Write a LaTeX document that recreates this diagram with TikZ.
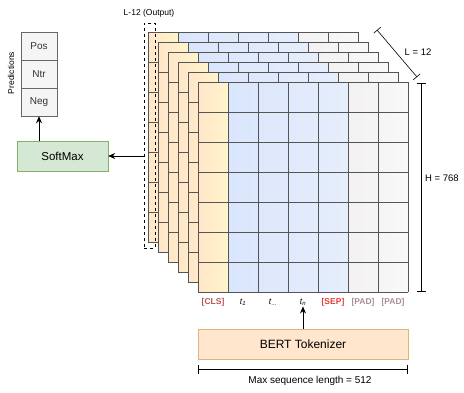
\documentclass[tikz,border=0pt]{standalone}
\usepackage{fontspec}
\setmainfont{Liberation Sans}
\usepackage{xcolor}
\usetikzlibrary{arrows.meta, positioning, calc}

\definecolor{gridln}{HTML}{555555}
\definecolor{clsL}{HTML}{FFE6C8}
\definecolor{clsR}{HTML}{FFF4CC}
\definecolor{tokL}{HTML}{DAE6FC}
\definecolor{tokR}{HTML}{E6EEFC}
\definecolor{padL}{HTML}{F3F1F2}
\definecolor{padR}{HTML}{F9F9F9}
\definecolor{clsred}{HTML}{B85450}
\definecolor{sepred}{HTML}{E0403A}
\definecolor{padgray}{HTML}{A88F98}
\definecolor{greenfill}{HTML}{D5E8D4}
\definecolor{greendraw}{HTML}{82B366}
\definecolor{orangefill}{HTML}{FFE6CC}
\definecolor{orangedraw}{HTML}{DDB57E}
\definecolor{predfill}{HTML}{F5F5F5}
\definecolor{preddraw}{HTML}{666666}

\tikzset{
  predcell/.style={draw=preddraw, fill=predfill, minimum width=36pt,
    minimum height=27.7pt, inner sep=0pt, font=\fontsize{10}{12}\selectfont, text=black!80},
  toklabel/.style={inner sep=1pt, font=\fontsize{8.5}{10}\selectfont},
  dimlabel/.style={inner sep=1pt, font=\fontsize{9.5}{11}\selectfont},
  dimline/.style={{Bar[width=9pt]}-{Bar[width=9pt]}, line width=0.6pt},
  flow/.style={-{Stealth[length=7pt, width=6pt]}, line width=0.8pt},
}

\begin{document}
\begin{tikzpicture}[>=Stealth, x=1pt, y=-1pt]
  \useasboundingbox (0,0) rectangle (464,392);
  % stacked encoder layers, back to front
  \foreach \k in {5,4,...,0} {
    \pgfmathsetmacro{\ox}{198-10*\k}
    \pgfmathsetmacro{\oy}{82-10*\k}
    \shade[left color=clsL, right color=clsR] (\ox,\oy) rectangle ++(30,210);
    \shade[left color=tokL, right color=tokR] (\ox+30,\oy) rectangle ++(120,210);
    \shade[left color=padL, right color=padR] (\ox+150,\oy) rectangle ++(60,210);
    \foreach \i in {0,...,7} {
      \draw[gridln, line width=0.7pt] (\ox+30*\i,\oy) -- ++(0,210);
      \draw[gridln, line width=0.7pt] (\ox,\oy+30*\i) -- ++(210,0);
    }
  }
  % output layer marker
  \node[draw, dashed, line width=0.5pt, minimum width=11pt, minimum height=225pt,
        inner sep=0pt] (outL) at (149.5,135.5) {};
  \node[inner sep=1pt, font=\fontsize{8.5}{10}\selectfont] (outlbl) at (149,13) {L-12 (Output)};
  % token labels
  \node[toklabel, text=clsred] (cls) at (213,302) {\textbf{[CLS]}};
  \node[toklabel] (t1) at (243,302) {\textit{t}\textsubscript{\textit{1}}};
  \node[toklabel] (tdots) at (273,302) {\textit{t}\textsubscript{\textit{...}}};
  \node[toklabel] (tn) at (303,302) {\textit{t}\textsubscript{\textit{n}}};
  \node[toklabel, text=sepred] (sep) at (333,302) {\textbf{[SEP]}};
  \node[toklabel, text=padgray] (pad1) at (363,302) {\textbf{[PAD]}};
  \node[toklabel, text=padgray] (pad2) at (393,302) {\textbf{[PAD]}};
  % tokenizer
  \node[draw=orangedraw, fill=orangefill, minimum width=210pt, minimum height=30pt,
        inner sep=0pt, font=\fontsize{12}{14}\selectfont] (tokzr) at (303,344) {BERT Tokenizer};
  \draw[flow] (tokzr) -- (tn);
  % max sequence length
  \coordinate (mA) at (198,369);
  \coordinate (mB) at (408,369);
  \draw[dimline] (mA) -- (mB);
  \node[inner sep=1pt, font=\fontsize{10}{12}\selectfont] (mlbl) at (310,381) {Max sequence length = 512};
  % hidden size
  \coordinate (hA) at (421,83);
  \coordinate (hB) at (421,292);
  \draw[dimline] (hA) -- (hB);
  \node[dimlabel] (hlbl) at (442,178) {H = 768};
  % number of layers
  \coordinate (lA) at (377,30);
  \coordinate (lB) at (417,77);
  \draw[dimline] (lA) -- (lB);
  \node[dimlabel] (llbl) at (418,52) {L = 12};
  % softmax and predictions
  \node[draw=greendraw, fill=greenfill, minimum width=91pt, minimum height=30pt,
        inner sep=0pt, font=\fontsize{11.5}{13}\selectfont] (soft) at (62.5,156) {SoftMax};
  \node[predcell] (pos) at (39,46) {Pos};
  \node[predcell, below=0pt of pos] (ntr) {Ntr};
  \node[predcell, below=0pt of ntr] (neg) {Neg};
  \node[inner sep=1pt, font=\fontsize{8.5}{10}\selectfont, rotate=90] (predlbl) at (11,73) {Predictions};
  \draw[flow] (outL.west |- soft) -- (soft.east);
  \draw[flow] (soft.north -| neg.south) -- (neg.south);
\end{tikzpicture}
\end{document}
